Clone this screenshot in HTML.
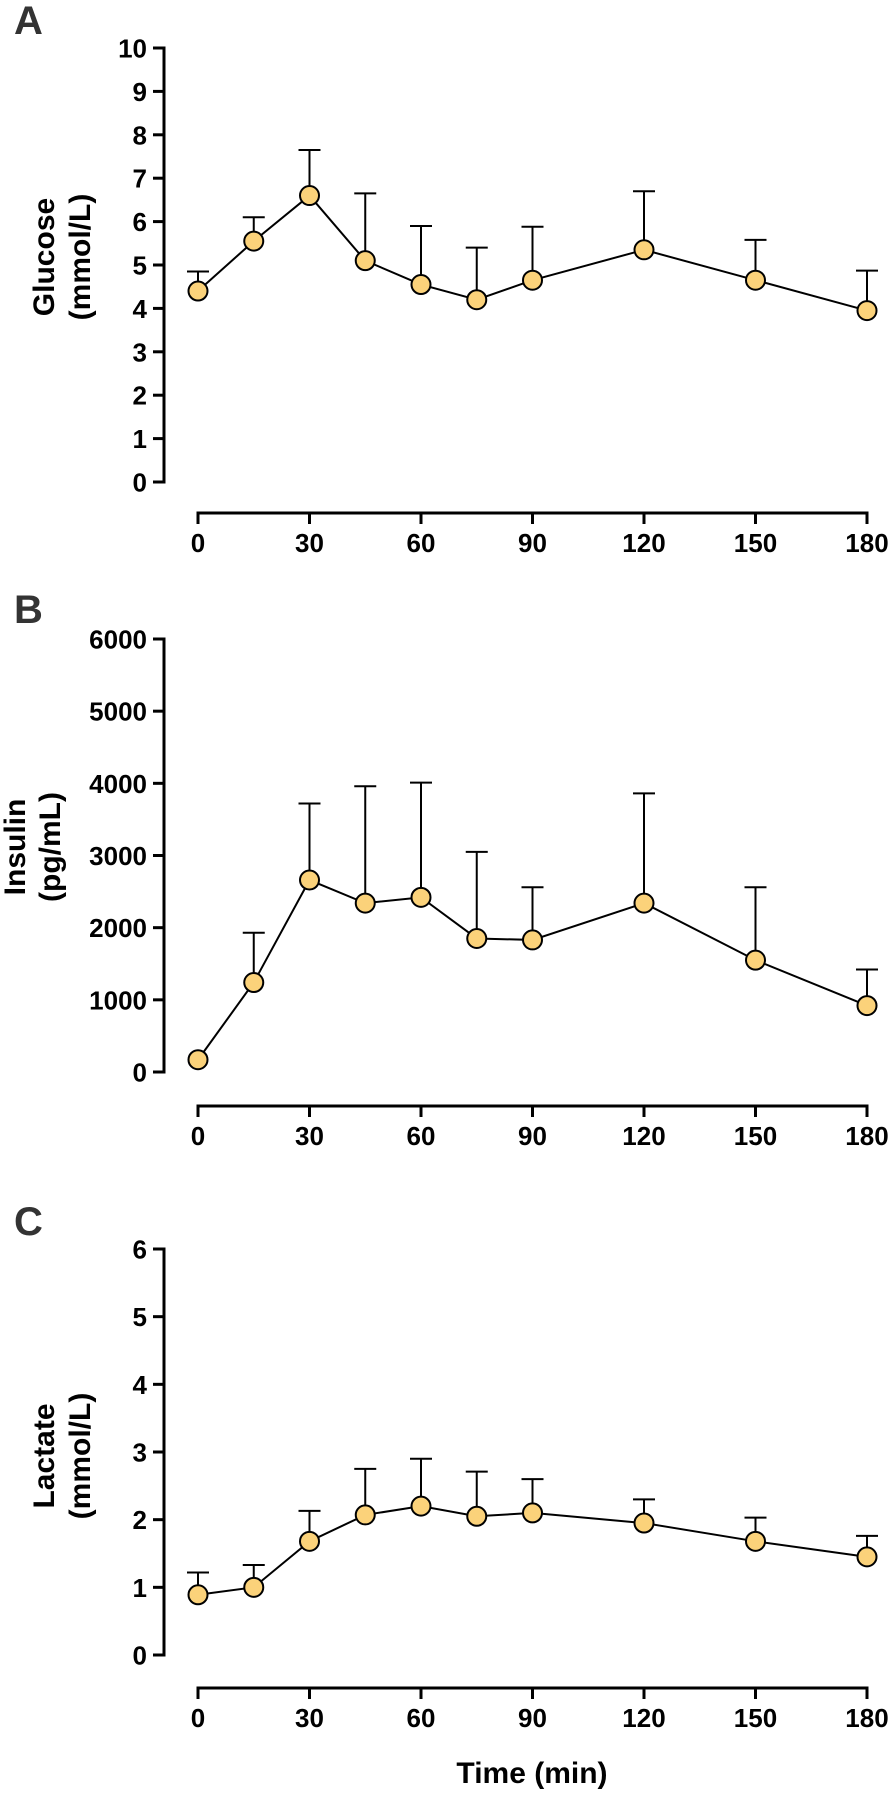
<!DOCTYPE html>
<html><head><meta charset="utf-8"><style>
html,body{margin:0;padding:0;background:#fff}
svg{display:block}
text{font-family:"Liberation Sans",Arial,sans-serif;font-weight:bold;fill:#000}
</style></head><body>
<svg id="fig" width="896" height="1798" viewBox="0 0 896 1798" xmlns="http://www.w3.org/2000/svg"></svg>
<script>
const times = [0,15,30,45,60,75,90,120,150,180];
const xTicks = [0,30,60,90,120,150,180];
const glucoseMean = [4.4,5.55,6.6,5.1,4.55,4.2,4.65,5.35,4.65,3.95];
const glucoseUpper = [4.85,6.1,7.65,6.65,5.9,5.4,5.88,6.7,5.58,4.87];
const glucoseTicks = [0,1,2,3,4,5,6,7,8,9,10];
const insulinMean = [170,1240,2660,2340,2420,1850,1830,2340,1550,920];
const insulinUpper = [170,1930,3720,3960,4010,3050,2560,3860,2560,1420];
const insulinTicks = [0,1000,2000,3000,4000,5000,6000];
const lactateMean = [0.89,1.0,1.68,2.07,2.2,2.05,2.1,1.95,1.68,1.45];
const lactateUpper = [1.22,1.33,2.13,2.75,2.9,2.71,2.6,2.3,2.03,1.76];
const lactateTicks = [0,1,2,3,4,5,6];

const NS='http://www.w3.org/2000/svg';
const svg=document.getElementById('fig');
function mk(tag,attrs,parent){const e=document.createElementNS(NS,tag);for(const k in attrs)e.setAttribute(k,attrs[k]);(parent||svg).appendChild(e);return e;}
const X0=198,X1=867;
function xs(t){return X0+(t/180)*(X1-X0);}

function panel(cfg){
  const g=mk('g',{});
  
  
  const ys=v=>cfg.y0+(v-cfg.min)/(cfg.max-cfg.min)*(cfg.yTop-cfg.y0);
  const lab=mk('text',{x:14,y:cfg.labelY,'font-size':40},g);lab.textContent=cfg.letter;
  lab.setAttribute('style','fill:#333');
  
  
  const ya=mk('line',{x1:164,y1:cfg.yTop-1.5,x2:164,y2:cfg.y0+1.5,stroke:'#000','stroke-width':3},g);
  
  
  cfg.ticks.forEach(v=>{
    const y=ys(v);
    mk('line',{x1:153,y1:y,x2:164,y2:y,stroke:'#000','stroke-width':3},g);
    const t=mk('text',{x:147,y:y+9.5,'font-size':26,'text-anchor':'end'},g);t.textContent=v;
    
    
  });
  const xa=mk('line',{x1:X0-1.5,y1:cfg.xAxisY,x2:X1+1.5,y2:cfg.xAxisY,stroke:'#000','stroke-width':3},g);
  
  
  xTicks.forEach(v=>{
    const x=xs(v);
    mk('line',{x1:x,y1:cfg.xAxisY,x2:x,y2:cfg.xAxisY+11,stroke:'#000','stroke-width':3},g);
    const t=mk('text',{x:x,y:cfg.xAxisY+39,'font-size':26,'text-anchor':'middle'},g);t.textContent=v;
    
    
  });
  const tt=mk('text',{transform:`translate(${cfg.tx1},${cfg.titleY}) rotate(-90)`,'font-size':30,'text-anchor':'middle'},g);
  tt.textContent=cfg.title1;
  
  
  const tt2=mk('text',{transform:`translate(${cfg.tx2},${cfg.titleY}) rotate(-90)`,'font-size':30,'text-anchor':'middle'},g);
  tt2.textContent=cfg.title2;
  
  
  times.forEach((t,i)=>{
    if(cfg.upper[i]<=cfg.mean[i])return;
    const x=xs(t),y1=ys(cfg.mean[i]),y2=ys(cfg.upper[i]);
    const e=mk('path',{d:`M${x},${y1}V${y2}M${x-11},${y2}H${x+11}`,stroke:'#000','stroke-width':2,fill:'none'},g);
    
    
  });
  const pts=times.map((t,i)=>xs(t)+','+ys(cfg.mean[i])).join(' ');
  const pl=mk('polyline',{points:pts,fill:'none',stroke:'#000','stroke-width':2},g);
  
  
  times.forEach((t,i)=>{
    const c=mk('circle',{cx:xs(t),cy:ys(cfg.mean[i]),r:9.5,fill:'#fbd27a',stroke:'#000','stroke-width':2},g);
    
    
  });
}
panel({name:'glucose',letter:'A',labelY:34,min:0,max:10,y0:482,yTop:48,xAxisY:513,ticks:glucoseTicks,mean:glucoseMean,upper:glucoseUpper,title1:'Glucose',title2:'(mmol/L)',titleY:257,tx1:54,tx2:90});
panel({name:'insulin',letter:'B',labelY:623,min:0,max:6000,y0:1072,yTop:639,xAxisY:1106,ticks:insulinTicks,mean:insulinMean,upper:insulinUpper,title1:'Insulin',title2:'(pg/mL)',titleY:847,tx1:25,tx2:60});
panel({name:'lactate',letter:'C',labelY:1235,min:0,max:6,y0:1655,yTop:1249,xAxisY:1688,ticks:lactateTicks,mean:lactateMean,upper:lactateUpper,title1:'Lactate',title2:'(mmol/L)',titleY:1456,tx1:54,tx2:90});
const xt=mk('text',{x:532,y:1783,'font-size':30,'text-anchor':'middle'});
xt.textContent='Time (min)';


</script>
</body></html>
